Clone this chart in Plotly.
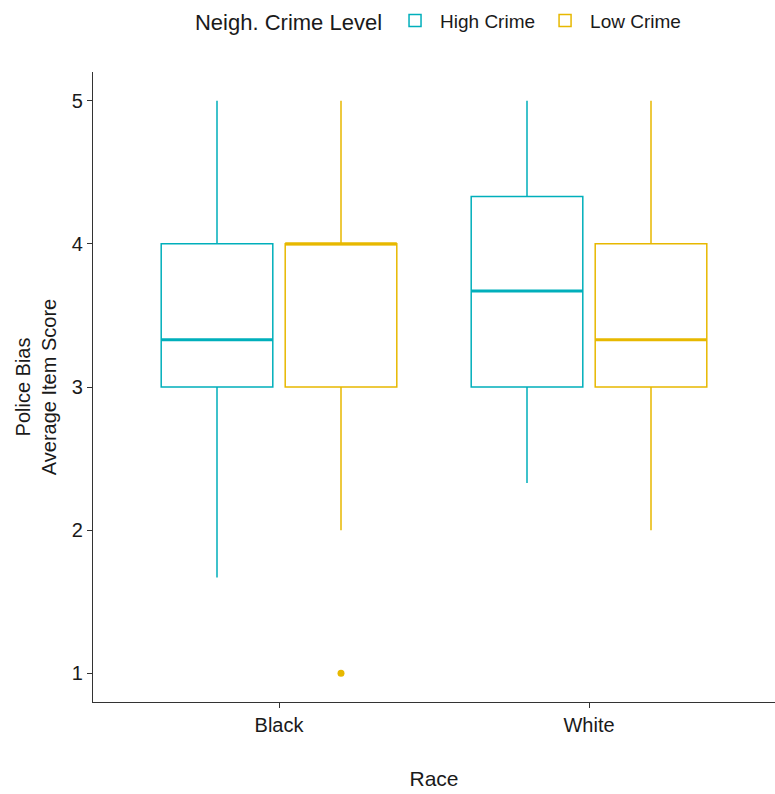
import plotly.graph_objects as go

# Summary statistics of the police-bias score by race and neighbourhood crime level
race = ["Black", "White"]
crime_levels = ["High Crime", "Low Crime"]

high_lower = [1.67, 2.33]
high_q1 = [3.0, 3.0]
high_median = [3.33, 3.67]
high_q3 = [4.0, 4.33]
high_upper = [5.0, 5.0]

low_lower = [2.0, 2.0]
low_q1 = [3.0, 3.0]
low_median = [4.0, 3.33]
low_q3 = [4.0, 4.0]
low_upper = [5.0, 5.0]

# Outliers: (race, crime level, value)
outlier_race = ["Black"]
outlier_level = ["Low Crime"]
outlier_value = [1.0]

colors = {"High Crime": "#00AFBB", "Low Crime": "#E7B800"}
stats = {
    "High Crime": (high_lower, high_q1, high_median, high_q3, high_upper),
    "Low Crime": (low_lower, low_q1, low_median, low_q3, low_upper),
}

# Dodged layout: two slots of 0.4 per category, boxes fill 90% of a slot
slot = 0.4
box_w = slot * 0.9
offset = {"High Crime": -slot / 2, "Low Crime": slot / 2}
FONT = "Liberation Sans, Arial, sans-serif"
AXIS = "#333333"

fig = go.Figure()
for lvl in crime_levels:
    lo, q1, med, q3, up = stats[lvl]
    xs = [i + offset[lvl] for i in range(len(race))]
    fig.add_trace(go.Box(
        name=lvl, x=xs, lowerfence=lo, q1=q1, median=med, q3=q3, upperfence=up,
        width=box_w, whiskerwidth=0, boxpoints=False,
        line=dict(color=colors[lvl], width=1.5), fillcolor="white",
        hoverinfo="skip",
    ))
    # thicker median bars
    mx, my = [], []
    for x, m in zip(xs, med):
        mx += [x - box_w / 2, x + box_w / 2, None]
        my += [m, m, None]
    fig.add_trace(go.Scatter(x=mx, y=my, mode="lines", showlegend=False,
                             line=dict(color=colors[lvl], width=3), hoverinfo="skip"))

for r, lvl, v in zip(outlier_race, outlier_level, outlier_value):
    fig.add_trace(go.Scatter(x=[race.index(r) + offset[lvl]], y=[v], mode="markers",
                             marker=dict(color=colors[lvl], size=7), showlegend=False))

fig.update_layout(
    width=775, height=794,
    margin=dict(l=93, r=0, t=72, b=92),
    paper_bgcolor="white", plot_bgcolor="white",
    font=dict(family=FONT, color="#1a1a1a"),
    boxmode="overlay",
    legend=dict(
        orientation="h", x=0.508, xanchor="center", yref="container", y=0.998, yanchor="top",
        title=dict(text="Neigh. Crime Level", font=dict(size=22), side="left"),
        font=dict(size=19), traceorder="normal", itemwidth=40,
    ),
    xaxis=dict(
        range=[-0.6, 1.6], tickvals=list(range(len(race))), ticktext=race,
        showline=True, linecolor=AXIS, linewidth=1.3, ticks="outside", ticklen=5,
        tickcolor=AXIS, tickwidth=1.3, showgrid=False, zeroline=False,
        tickfont=dict(size=20), title=dict(text="Race", font=dict(size=21), standoff=36),
    ),
    yaxis=dict(
        range=[0.8, 5.2], tickvals=[1, 2, 3, 4, 5],
        showline=True, linecolor=AXIS, linewidth=1.3, ticks="outside", ticklen=5,
        tickcolor=AXIS, tickwidth=1.3, showgrid=False, zeroline=False,
        tickfont=dict(size=20),
        title=dict(text="Police Bias<br>Average Item Score", font=dict(size=20), standoff=9),
    ),
)

fig.write_html("out.html")
